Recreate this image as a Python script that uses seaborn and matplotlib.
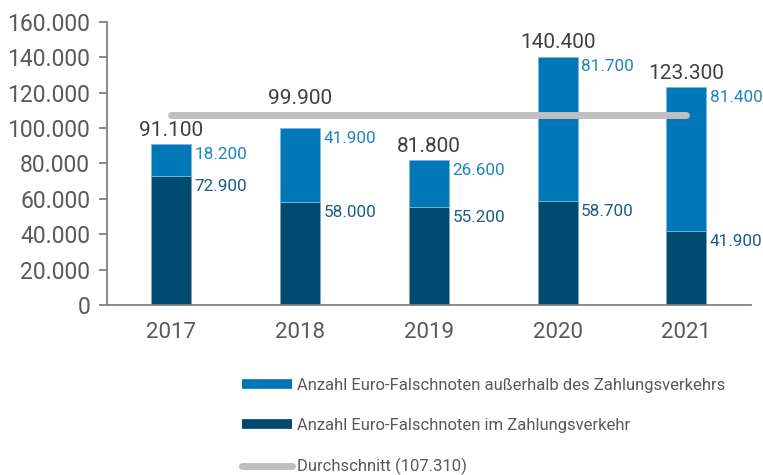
import matplotlib
matplotlib.use("Agg")
import matplotlib.pyplot as plt
import seaborn as sns
import pandas as pd
from matplotlib.lines import Line2D

years = ["2017", "2018", "2019", "2020", "2021"]
im_verkehr = [72900, 58000, 55200, 58700, 41900]
ausserhalb = [18200, 41900, 26600, 81700, 81400]
totals = [91100, 99900, 81800, 140400, 123300]
average = 107310
yticks = [0, 20000, 40000, 60000, 80000, 100000, 120000, 140000, 160000]

label_out = "Anzahl Euro-Falschnoten außerhalb des Zahlungsverkehrs"
label_in = "Anzahl Euro-Falschnoten im Zahlungsverkehr"
label_avg = "Durchschnitt (107.310)"

def fmt(v):
    return f"{v:,.0f}".replace(",", ".")

sns.set_theme(style="white")
plt.rcParams["font.family"] = ["Roboto", "DejaVu Sans"]

c_light = "#0077B6"
c_dark = "#00496F"
c_light_txt = "#1C86C3"
c_dark_txt = "#1D5C86"
c_grey = "#BFBFBF"
c_axis = "#808080"
c_text = "#404040"
c_tick = "#595959"

df = pd.DataFrame({"year": years, "im": im_verkehr, "aus": ausserhalb, "tot": totals})

fig = plt.figure(figsize=(7.63, 4.75), dpi=100)
ax = fig.add_axes([0.140, 0.358, 0.844, 0.596])

bw = 0.31
sns.barplot(data=df, x="year", y="im", color=c_dark, width=bw, ax=ax,
            saturation=1, edgecolor="#7FA4BF", linewidth=0.6, zorder=2)
sns.barplot(data=df, x="year", y="aus", bottom=df["im"], color=c_light, width=bw, ax=ax,
            saturation=1, edgecolor="#7FB7DA", linewidth=0.6, zorder=2)

xs = list(range(len(years)))
ax.plot([xs[0], xs[-1]], [average, average], color=c_grey, lw=5,
        solid_capstyle="round", zorder=4)

for i in xs:
    # total label: lifted above the average line where it would collide
    anchor = average if 0 < average - totals[i] < 10000 else totals[i]
    ax.annotate(fmt(totals[i]), (i, anchor), xytext=(0, 3 if anchor == totals[i] else 5),
                textcoords="offset points", ha="center", va="bottom", fontsize=15,
                color=c_text)
    ax.annotate(fmt(ausserhalb[i]), (i + bw / 2, totals[i]), xytext=(2.5, -2),
                textcoords="offset points", ha="left", va="top", fontsize=12.3, color=c_light_txt)
    ax.annotate(fmt(im_verkehr[i]), (i + bw / 2, im_verkehr[i]), xytext=(2.5, -2),
                textcoords="offset points", ha="left", va="top", fontsize=12.3, color=c_dark_txt)

ax.set_xlim(-0.5, 4.5)
ax.set_ylim(0, 160000)
ax.set_yticks(yticks)
ax.set_yticklabels([fmt(v) for v in yticks])
ax.set_xlabel("")
ax.set_ylabel("")
ax.set_xticks(xs)
ax.set_xticklabels(years)
ax.set_xticks([x - 0.5 for x in range(len(years) + 1)], minor=True)
ax.tick_params(axis="x", which="major", length=0, pad=12, labelsize=16, labelcolor=c_tick)
ax.tick_params(axis="x", which="minor", length=7, width=1.3, color=c_axis, direction="out")
ax.tick_params(axis="y", length=6, width=1.3, color=c_axis, labelsize=16.5,
               labelcolor=c_tick, pad=6, left=True)
for s in ["top", "right"]:
    ax.spines[s].set_visible(False)
for s in ["left", "bottom"]:
    ax.spines[s].set_color(c_axis)
    ax.spines[s].set_linewidth(1.3)

handles = [
    Line2D([0], [0], color=c_light, lw=7, solid_capstyle="butt"),
    Line2D([0], [0], color=c_dark, lw=7, solid_capstyle="butt"),
    Line2D([0], [0], color=c_grey, lw=5, solid_capstyle="round"),
]
leg = fig.legend(handles, [label_out, label_in, label_avg], loc="lower left",
                 bbox_to_anchor=(0.297, -0.032), frameon=False, fontsize=12,
                 handlelength=3.0, handletextpad=0.3, labelspacing=1.5,
                 labelcolor=c_tick)

fig.savefig("out.png", dpi=100)
